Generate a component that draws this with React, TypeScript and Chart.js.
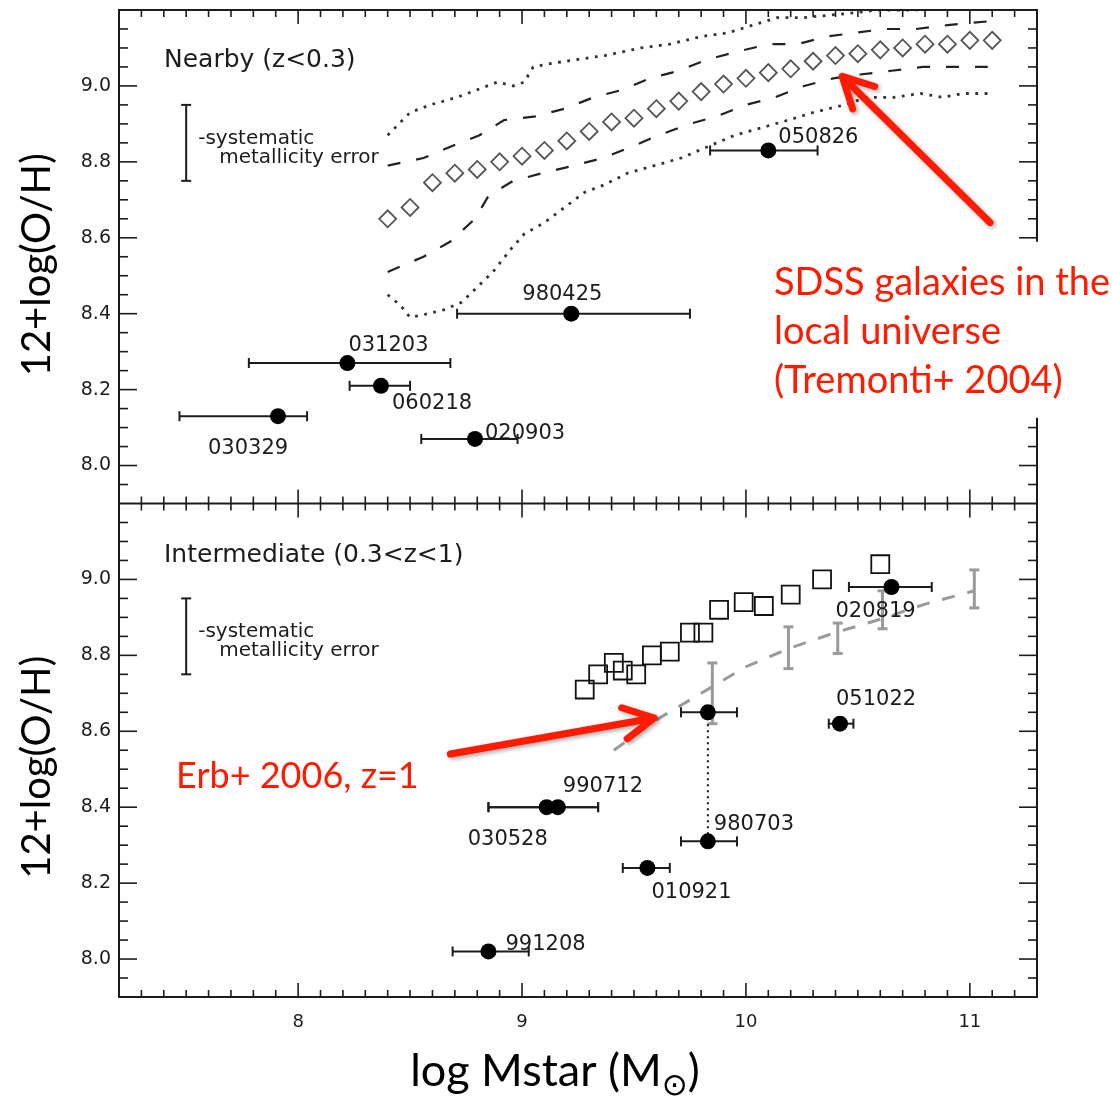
import { useEffect, useRef } from "react";
import { Chart, registerables } from "chart.js";

Chart.register(...registerables);

const W = 1112;
const H = 1096;

// Axis ranges and labelled ticks (shared x, two stacked y panels)
const X_MIN = 7.2;
const X_MAX = 11.3;
const Y_MIN = 7.9;
const Y_MAX = 9.2;
const X_TICKS = [8, 9, 10, 11];
const Y_TICKS = [8.0, 8.2, 8.4, 8.6, 8.8, 9.0];

// SDSS galaxies in the local universe (Tremonti+ 2004): median relation
const SDSS_MASS = [8.4, 8.5, 8.6, 8.7, 8.8, 8.9, 9.0, 9.1, 9.2, 9.3, 9.4, 9.5, 9.6, 9.7, 9.8, 9.9, 10.0, 10.1, 10.2, 10.3, 10.4, 10.5, 10.6, 10.7, 10.8, 10.9, 11.0, 11.1];
const SDSS_MEDIAN = [8.65, 8.68, 8.745, 8.77, 8.78, 8.80, 8.815, 8.83, 8.855, 8.88, 8.905, 8.915, 8.94, 8.96, 8.985, 9.005, 9.02, 9.035, 9.045, 9.065, 9.08, 9.085, 9.095, 9.10, 9.11, 9.11, 9.12, 9.12];

// 68% contours (dashed)
const SDSS_68_HI_MASS = [8.40, 8.56, 8.68, 8.81, 8.92, 9.06, 9.19, 9.32, 9.45, 9.57, 9.70, 9.83, 9.96, 10.10, 10.23, 10.36, 10.49, 10.62, 10.76, 10.90, 11.08];
const SDSS_68_HI = [8.79, 8.81, 8.84, 8.87, 8.91, 8.92, 8.94, 8.97, 8.99, 9.02, 9.04, 9.07, 9.09, 9.11, 9.11, 9.13, 9.14, 9.15, 9.15, 9.16, 9.17];
const SDSS_68_LO_MASS = [8.40, 8.56, 8.68, 8.79, 8.85, 8.96, 9.09, 9.23, 9.36, 9.49, 9.61, 9.75, 9.87, 10.00, 10.13, 10.26, 10.39, 10.51, 10.65, 10.79, 10.92, 11.08];
const SDSS_68_LO = [8.51, 8.55, 8.59, 8.65, 8.71, 8.75, 8.77, 8.79, 8.81, 8.84, 8.87, 8.90, 8.92, 8.95, 8.97, 9.00, 9.02, 9.03, 9.04, 9.05, 9.05, 9.05];

// 95% contours (dotted)
const SDSS_95_HI_MASS = [8.40, 8.50, 8.59, 8.71, 8.80, 8.89, 8.96, 9.01, 9.05, 9.14, 9.25, 9.37, 9.53, 9.66, 9.80, 9.92, 10.03, 10.14, 10.26, 10.44, 10.59, 10.74, 11.08];
const SDSS_95_HI = [8.87, 8.93, 8.95, 8.97, 8.99, 9.01, 9.00, 9.01, 9.05, 9.06, 9.07, 9.08, 9.10, 9.11, 9.13, 9.14, 9.16, 9.18, 9.18, 9.19, 9.20, 9.20, 9.205];
const SDSS_95_LO_MASS = [8.40, 8.46, 8.50, 8.58, 8.65, 8.73, 8.80, 8.87, 8.95, 9.01, 9.10, 9.19, 9.28, 9.37, 9.47, 9.59, 9.71, 9.83, 9.95, 10.07, 10.19, 10.30, 10.44, 10.54, 10.66, 10.78, 10.88, 10.97, 11.08];
const SDSS_95_LO = [8.45, 8.42, 8.39, 8.40, 8.41, 8.43, 8.47, 8.51, 8.57, 8.61, 8.64, 8.68, 8.72, 8.74, 8.77, 8.79, 8.81, 8.84, 8.87, 8.89, 8.91, 8.93, 8.95, 8.97, 8.97, 8.98, 8.97, 8.98, 8.98];

// Nearby GRB hosts (z < 0.3)
const NEARBY_NAMES = ["050826", "980425", "031203", "060218", "030329", "020903"];
const NEARBY_MASS = [10.10, 9.22, 8.22, 8.37, 7.91, 8.79];
const NEARBY_MASS_LO = [9.84, 8.71, 7.78, 8.23, 7.47, 8.55];
const NEARBY_MASS_HI = [10.32, 9.75, 8.68, 8.50, 8.04, 8.98];
const NEARBY_OH = [8.83, 8.40, 8.27, 8.21, 8.13, 8.07];
const NEARBY_LABEL_DX = [10, -49, 1, 11, -70, 10];
const NEARBY_LABEL_DY = [-7, -14, -12, 23, 38, 0];

// Intermediate-redshift GRB hosts (0.3 < z < 1); 980703 has two estimates
const INTER_NAMES = ["020819", "051022", null, "980703", "010921", "990712", "030528", "991208"];
const INTER_MASS = [10.65, 10.42, 9.83, 9.83, 9.56, 9.16, 9.11, 8.85];
const INTER_MASS_LO = [10.46, 10.37, 9.71, 9.71, 9.45, 8.85, 8.85, 8.69];
const INTER_MASS_HI = [10.83, 10.48, 9.96, 9.96, 9.66, 9.34, 9.34, 9.03];
const INTER_OH = [8.98, 8.62, 8.65, 8.31, 8.24, 8.40, 8.40, 8.02];
const INTER_LABEL_DX = [-56, -4, 0, 6, 4, 5, -79, 17];
const INTER_LABEL_DY = [30, -19, 0, -11, 30, -15, 38, -1];

// Field galaxies at intermediate redshift (open squares)
const FIELD_MASS = [9.28, 9.34, 9.41, 9.45, 9.51, 9.58, 9.66, 9.75, 9.81, 9.88, 9.99, 10.08, 10.20, 10.34, 10.60];
const FIELD_OH = [8.71, 8.75, 8.78, 8.76, 8.75, 8.80, 8.81, 8.86, 8.86, 8.92, 8.94, 8.93, 8.96, 9.00, 9.04];

// Erb+ 2006 relation shifted to z=1: binned values and the curve
const ERB_MASS = [9.85, 10.19, 10.41, 10.61, 11.02];
const ERB_OH = [8.70, 8.82, 8.845, 8.92, 8.975];
const ERB_ERR = [0.08, 0.055, 0.04, 0.05, 0.05];
const ERB_CURVE_MASS = [9.41, 9.6, 9.8, 10.0, 10.2, 10.4, 10.6, 10.8, 11.02];
const ERB_CURVE_OH = [8.55, 8.63, 8.70, 8.77, 8.82, 8.86, 8.895, 8.935, 8.97];

// Systematic metallicity error bar (both panels)
const SYS_MASS = 7.5;
const SYS_OH = 8.85;
const SYS_ERR = 0.1;

// Annotations, anchored in data coordinates
const SDSS_NOTE = ["SDSS galaxies in the", "local universe", "(Tremonti+ 2004)"];
const SDSS_NOTE_AT = { x: 10.125, y: 8.45 };
const SDSS_ARROW = { from: { x: 11.09, y: 8.64 }, to: { x: 10.43, y: 9.025 } };
const ERB_NOTE = "Erb+ 2006, z=1";
const ERB_NOTE_AT = { x: 7.455, y: 8.45 };
const ERB_ARROW = { from: { x: 8.68, y: 8.54 }, to: { x: 9.59, y: 8.635 } };

const LABEL_FONT = "21px 'DejaVu Sans'";
const INK = "#1c1c1c";
const RED = "#ff1a00";

const pts = (xs: number[], ys: number[]) => xs.map((x, i) => ({ x, y: ys[i] }));

function drawText(ctx: CanvasRenderingContext2D, s: string, x: number, y: number, font: string, color: string, align: CanvasTextAlign = "left", baseline: CanvasTextBaseline = "alphabetic") {
  ctx.save();
  ctx.font = font;
  ctx.fillStyle = color;
  ctx.textAlign = align;
  ctx.textBaseline = baseline;
  ctx.fillText(s, x, y);
  ctx.restore();
}

function seg(ctx: CanvasRenderingContext2D, x0: number, y0: number, x1: number, y1: number) {
  ctx.beginPath();
  ctx.moveTo(x0, y0);
  ctx.lineTo(x1, y1);
  ctx.stroke();
}

function drawMassErrors(ctx: CanvasRenderingContext2D, xs: any, ys: any, lo: number[], hi: number[], oh: number[]) {
  ctx.save();
  ctx.strokeStyle = INK;
  ctx.lineWidth = 2;
  for (let i = 0; i < oh.length; i++) {
    const y = ys.getPixelForValue(oh[i]);
    const a = xs.getPixelForValue(lo[i]);
    const b = xs.getPixelForValue(hi[i]);
    seg(ctx, a, y, b, y);
    seg(ctx, a, y - 5, a, y + 5);
    seg(ctx, b, y - 5, b, y + 5);
  }
  ctx.restore();
}

function drawArrow(ctx: CanvasRenderingContext2D, x0: number, y0: number, x1: number, y1: number) {
  const ang = Math.atan2(y0 - y1, x0 - x1);
  const arm = 34;
  const spread = 0.48;
  ctx.save();
  ctx.strokeStyle = RED;
  ctx.lineWidth = 7;
  ctx.lineCap = "round";
  ctx.lineJoin = "round";
  ctx.shadowColor = "rgba(0,0,0,0.35)";
  ctx.shadowBlur = 4;
  ctx.shadowOffsetX = 2;
  ctx.shadowOffsetY = 2;
  ctx.beginPath();
  ctx.moveTo(x0, y0);
  ctx.lineTo(x1, y1);
  ctx.moveTo(x1 + arm * Math.cos(ang + spread), y1 + arm * Math.sin(ang + spread));
  ctx.lineTo(x1, y1);
  ctx.lineTo(x1 + arm * Math.cos(ang - spread), y1 + arm * Math.sin(ang - spread));
  ctx.stroke();
  ctx.restore();
}

const panelPlugin = {
  id: "panelDecor",
  beforeDatasetDraw(chart: any, args: any) {
    const ctx = chart.ctx as CanvasRenderingContext2D;
    const xs = chart.scales.x;
    const label = chart.data.datasets[args.index].label;
    if (label === "Nearby GRB hosts") {
      drawMassErrors(ctx, xs, chart.scales.yTop, NEARBY_MASS_LO, NEARBY_MASS_HI, NEARBY_OH);
    } else if (label === "Intermediate GRB hosts") {
      drawMassErrors(ctx, xs, chart.scales.yBot, INTER_MASS_LO, INTER_MASS_HI, INTER_OH);
    } else if (label === "Erb+ 2006") {
      const ys = chart.scales.yBot;
      ctx.save();
      ctx.strokeStyle = "#9a9a9a";
      ctx.lineWidth = 3;
      for (let i = 0; i < ERB_MASS.length; i++) {
        const x = xs.getPixelForValue(ERB_MASS[i]);
        const a = ys.getPixelForValue(ERB_OH[i] + ERB_ERR[i]);
        const b = ys.getPixelForValue(ERB_OH[i] - ERB_ERR[i]);
        seg(ctx, x, a, x, b);
        seg(ctx, x - 5, a, x + 5, a);
        seg(ctx, x - 5, b, x + 5, b);
      }
      ctx.restore();
    }
  },
  afterDatasetsDraw(chart: any) {
    const ctx = chart.ctx as CanvasRenderingContext2D;
    const xs = chart.scales.x;
    NEARBY_NAMES.forEach((n, i) => {
      const x = xs.getPixelForValue(NEARBY_MASS[i]);
      const y = chart.scales.yTop.getPixelForValue(NEARBY_OH[i]);
      drawText(ctx, n, x + NEARBY_LABEL_DX[i], y + NEARBY_LABEL_DY[i], LABEL_FONT, INK);
    });
    INTER_NAMES.forEach((n, i) => {
      if (!n) return;
      const x = xs.getPixelForValue(INTER_MASS[i]);
      const y = chart.scales.yBot.getPixelForValue(INTER_OH[i]);
      drawText(ctx, n, x + INTER_LABEL_DX[i], y + INTER_LABEL_DY[i], LABEL_FONT, INK);
    });
  },
  afterDraw(chart: any) {
    const ctx = chart.ctx as CanvasRenderingContext2D;
    const a = chart.chartArea;
    const xs = chart.scales.x;
    const yT = chart.scales.yTop;
    const yB = chart.scales.yBot;

    // frame and panel divider
    ctx.save();
    ctx.strokeStyle = INK;
    ctx.lineWidth = 2;
    ctx.strokeRect(a.left, a.top, a.right - a.left, a.bottom - a.top);
    seg(ctx, a.left, yT.bottom, a.right, yT.bottom);

    // inward tick marks on every side of both panels
    ctx.lineWidth = 1.6;
    for (let k = 72; k <= 113; k++) {
      const p = xs.getPixelForValue(k / 10);
      if (p <= a.left + 1 || p >= a.right - 1) continue;
      const len = k % 10 === 0 ? 14 : 7;
      seg(ctx, p, yT.top, p, yT.top + len);
      seg(ctx, p, yT.bottom, p, yT.bottom - len);
      seg(ctx, p, yB.top, p, yB.top + len);
      seg(ctx, p, yB.bottom, p, yB.bottom - len);
    }
    for (const ys of [yT, yB]) {
      for (let k = 158; k <= 184; k++) {
        const p = ys.getPixelForValue(k * 0.05);
        if (p <= ys.top + 1 || p >= ys.bottom - 1) continue;
        const len = k % 4 === 0 ? 18 : 9;
        seg(ctx, a.left, p, a.left + len, p);
        seg(ctx, a.right, p, a.right - len, p);
      }
    }
    ctx.restore();

    // panel titles
    drawText(ctx, "Nearby (z<0.3)", a.left + 45, yT.top + 57, "25px 'DejaVu Sans'", INK);
    drawText(ctx, "Intermediate (0.3<z<1)", a.left + 45, yB.top + 58, "25px 'DejaVu Sans'", INK);

    // systematic metallicity error bars
    for (const ys of [yT, yB]) {
      const x = xs.getPixelForValue(SYS_MASS);
      const t = ys.getPixelForValue(SYS_OH + SYS_ERR);
      const b = ys.getPixelForValue(SYS_OH - SYS_ERR);
      const c = ys.getPixelForValue(SYS_OH);
      ctx.save();
      ctx.strokeStyle = INK;
      ctx.lineWidth = 2;
      seg(ctx, x, t, x, b);
      seg(ctx, x - 5, t, x + 5, t);
      seg(ctx, x - 5, b, x + 5, b);
      ctx.restore();
      drawText(ctx, "-systematic", x + 12, c + 1, "20px 'DejaVu Sans'", INK);
      drawText(ctx, "metallicity error", x + 33, c + 20, "20px 'DejaVu Sans'", INK);
    }

    // axis titles
    for (const [ys, off] of [[yT, 8], [yB, 17]] as any) {
      ctx.save();
      ctx.translate(37, (ys.top + ys.bottom) / 2 + off);
      ctx.rotate(-Math.PI / 2);
      drawText(ctx, "12+log(O/H)", 0, 0, "40px Lato", "#000", "center", "middle");
      ctx.restore();
    }
    ctx.save();
    const mainFont = "45px Lato";
    const subFont = "31px 'DejaVu Sans'";
    ctx.font = mainFont;
    const w1 = ctx.measureText("log Mstar (M").width;
    const w3 = ctx.measureText(")").width;
    ctx.font = subFont;
    const w2 = ctx.measureText("⊙").width;
    ctx.restore();
    const total = w1 + w2 + w3;
    const x0 = (a.left + a.right) / 2 - 23 - total / 2;
    const base = a.bottom + 89;
    drawText(ctx, "log Mstar (M", x0, base, mainFont, "#000");
    drawText(ctx, "⊙", x0 + w1, base + 9, subFont, "#000");
    drawText(ctx, ")", x0 + w1 + w2, base, mainFont, "#000");

    // SDSS note on a white box, with its arrow
    const nx = xs.getPixelForValue(SDSS_NOTE_AT.x);
    const ny = yT.getPixelForValue(SDSS_NOTE_AT.y);
    ctx.save();
    ctx.fillStyle = "#fff";
    ctx.fillRect(nx - 11, ny - 53, W - nx + 11, 176);
    ctx.restore();
    SDSS_NOTE.forEach((line, i) => drawText(ctx, line, nx, ny + i * 49, "38px Lato", RED));
    drawArrow(
      ctx,
      xs.getPixelForValue(SDSS_ARROW.from.x), yT.getPixelForValue(SDSS_ARROW.from.y),
      xs.getPixelForValue(SDSS_ARROW.to.x), yT.getPixelForValue(SDSS_ARROW.to.y)
    );

    // Erb note with its arrow
    drawText(ctx, ERB_NOTE, xs.getPixelForValue(ERB_NOTE_AT.x), yB.getPixelForValue(ERB_NOTE_AT.y), "36px Lato", RED);
    drawArrow(
      ctx,
      xs.getPixelForValue(ERB_ARROW.from.x), yB.getPixelForValue(ERB_ARROW.from.y),
      xs.getPixelForValue(ERB_ARROW.to.x), yB.getPixelForValue(ERB_ARROW.to.y)
    );
  },
};

function yScale(weight: number) {
  return {
    type: "linear" as const,
    position: "left" as const,
    stack: "panels",
    stackWeight: 1,
    weight,
    min: Y_MIN,
    max: Y_MAX,
    grid: { display: false, drawTicks: false },
    border: { display: false },
    ticks: {
      padding: 8,
      color: INK,
      font: { family: "DejaVu Sans", size: 19 },
      callback: (v: any) => Number(v).toFixed(1),
    },
    afterBuildTicks: (s: any) => {
      s.ticks = Y_TICKS.map((value) => ({ value }));
    },
    afterFit: (s: any) => {
      s.width = 119;
      s.paddingTop = 0;
      s.paddingBottom = 0;
    },
  };
}

export default function App() {
  const ref = useRef<HTMLCanvasElement>(null);

  useEffect(() => {
    document.body.style.margin = "0";
    const canvas = ref.current;
    if (!canvas) return;

    const lineStyle = (color: string, width: number, dash: number[]) => ({
      showLine: true,
      borderColor: color,
      borderWidth: width,
      borderDash: dash,
      pointRadius: 0,
      fill: false,
      tension: 0,
    });

    const chart = new Chart(canvas, {
      type: "scatter",
      data: {
        datasets: [
          {
            label: "Nearby GRB hosts",
            yAxisID: "yTop",
            data: pts(NEARBY_MASS, NEARBY_OH),
            pointStyle: "circle",
            pointRadius: 8,
            backgroundColor: "#000",
            borderColor: "#000",
            borderWidth: 0,
          },
          {
            label: "Intermediate GRB hosts",
            yAxisID: "yBot",
            data: pts(INTER_MASS, INTER_OH),
            pointStyle: "circle",
            pointRadius: 8,
            backgroundColor: "#000",
            borderColor: "#000",
            borderWidth: 0,
          },
          {
            label: "980703 estimates",
            yAxisID: "yBot",
            data: [
              { x: INTER_MASS[2], y: INTER_OH[2] },
              { x: INTER_MASS[3], y: INTER_OH[3] },
            ],
            ...lineStyle("#111", 2, [2, 4]),
          },
          {
            label: "SDSS median",
            yAxisID: "yTop",
            data: pts(SDSS_MASS, SDSS_MEDIAN),
            pointStyle: "rectRot",
            pointRadius: 8.5,
            backgroundColor: "rgba(0,0,0,0)",
            borderColor: "#555",
            borderWidth: 1.8,
          },
          { label: "SDSS 68% upper", yAxisID: "yTop", data: pts(SDSS_68_HI_MASS, SDSS_68_HI), ...lineStyle("#222", 2.2, [13, 16]) },
          { label: "SDSS 68% lower", yAxisID: "yTop", data: pts(SDSS_68_LO_MASS, SDSS_68_LO), ...lineStyle("#222", 2.2, [13, 16]) },
          { label: "SDSS 95% upper", yAxisID: "yTop", data: pts(SDSS_95_HI_MASS, SDSS_95_HI), ...lineStyle("#333", 2.8, [2.8, 6.5]) },
          { label: "SDSS 95% lower", yAxisID: "yTop", data: pts(SDSS_95_LO_MASS, SDSS_95_LO), ...lineStyle("#333", 2.8, [2.8, 6.5]) },
          {
            label: "Field galaxies",
            yAxisID: "yBot",
            data: pts(FIELD_MASS, FIELD_OH),
            pointStyle: "rect",
            pointRadius: 12.7,
            backgroundColor: "rgba(0,0,0,0)",
            borderColor: "#111",
            borderWidth: 1.8,
          },
          {
            label: "Erb+ 2006",
            yAxisID: "yBot",
            data: pts(ERB_CURVE_MASS, ERB_CURVE_OH),
            ...lineStyle("#9a9a9a", 3, [13, 13]),
          },
        ],
      },
      options: {
        animation: false,
        responsive: false,
        maintainAspectRatio: false,
        devicePixelRatio: 1,
        events: [],
        layout: { autoPadding: false, padding: { left: 0, top: 10, right: 75, bottom: 0 } },
        plugins: {
          legend: { display: false },
          tooltip: { enabled: false },
        },
        scales: {
          x: {
            type: "linear",
            position: "bottom",
            min: X_MIN,
            max: X_MAX,
            grid: { display: false, drawTicks: false },
            border: { display: false },
            ticks: {
              padding: 15,
              color: INK,
              font: { family: "DejaVu Sans", size: 18 },
              callback: (v: any) => String(v),
            },
            afterBuildTicks: (s: any) => {
              s.ticks = X_TICKS.map((value) => ({ value }));
            },
            afterFit: (s: any) => {
              s.height = 99;
              s.paddingLeft = 0;
              s.paddingRight = 0;
            },
          },
          yTop: yScale(2),
          yBot: yScale(1),
        } as any,
      },
      plugins: [panelPlugin],
    });

    return () => chart.destroy();
  }, []);

  return (
    <div style={{ width: W, height: H, background: "#fff" }}>
      <canvas ref={ref} width={W} height={H} style={{ display: "block" }} />
    </div>
  );
}
